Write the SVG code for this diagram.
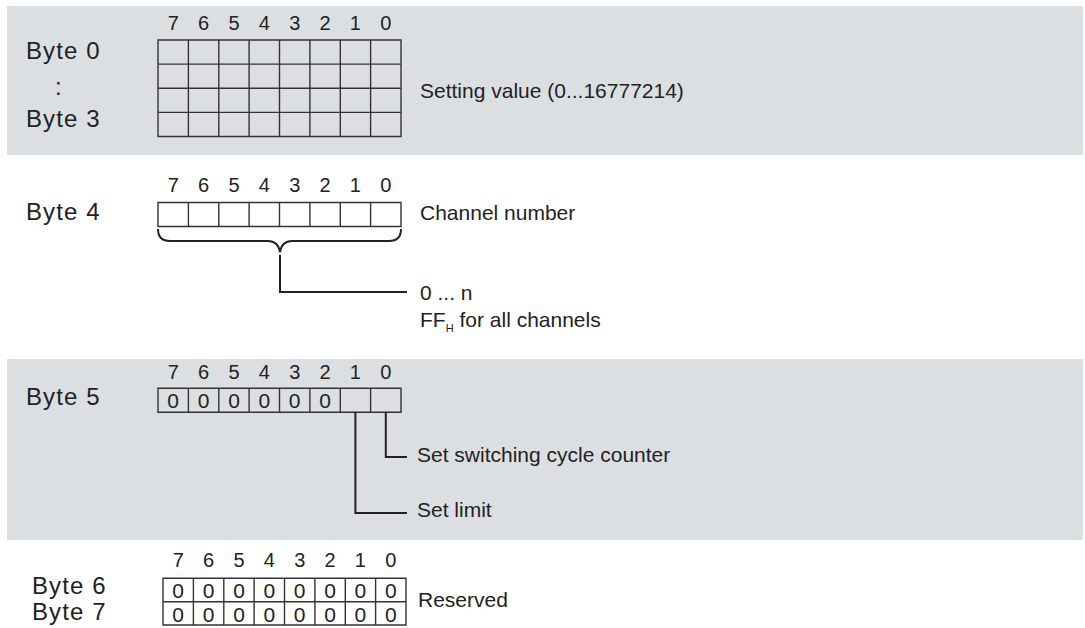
<svg xmlns="http://www.w3.org/2000/svg" width="1085" height="628" viewBox="0 0 1085 628">
<style>
.bg{fill:#dcdfe2}
.grid{fill:none;stroke:#333;stroke-width:1.4}
.t{font-family:"Liberation Sans",Arial,sans-serif;fill:#222}
.lbl{font-size:24px;letter-spacing:1.1px}
.bit{font-size:20px;text-anchor:middle}
.zero{font-size:21px;text-anchor:middle}
.txt{font-size:21px}
.conn{fill:none;stroke:#222;stroke-width:2}
</style>
<rect class="bg" x="7" y="6" width="1076" height="149"/>
<rect class="bg" x="7" y="359" width="1076" height="181"/>

<g id="byte0-3">
  <text class="t lbl" x="26" y="59">Byte 0</text>
  <text class="t lbl" x="55" y="95">:</text>
  <text class="t lbl" x="26" y="127">Byte 3</text>
  <g class="t bit">
    <text x="173.2" y="30">7</text><text x="203.6" y="30">6</text><text x="234" y="30">5</text><text x="264.3" y="30">4</text><text x="294.7" y="30">3</text><text x="325" y="30">2</text><text x="355.4" y="30">1</text><text x="385.8" y="30">0</text>
  </g>
  <path class="grid" d="M158,40H401V136.5H158Z M158,64.1H401 M158,88.3H401 M158,112.4H401 M188.4,40V136.5 M218.8,40V136.5 M249.1,40V136.5 M279.5,40V136.5 M309.9,40V136.5 M340.3,40V136.5 M370.6,40V136.5"/>
  <text class="t txt" x="420" y="98">Setting value (0...16777214)</text>
</g>

<g id="byte4">
  <text class="t lbl" x="26" y="220">Byte 4</text>
  <g class="t bit">
    <text x="173.2" y="192">7</text><text x="203.6" y="192">6</text><text x="234" y="192">5</text><text x="264.3" y="192">4</text><text x="294.7" y="192">3</text><text x="325" y="192">2</text><text x="355.4" y="192">1</text><text x="385.8" y="192">0</text>
  </g>
  <path class="grid" d="M158,202.5H401V226.5H158Z M188.4,202.5V226.5 M218.8,202.5V226.5 M249.1,202.5V226.5 M279.5,202.5V226.5 M309.9,202.5V226.5 M340.3,202.5V226.5 M370.6,202.5V226.5"/>
  <text class="t txt" x="420" y="220">Channel number</text>
  <text class="t txt" x="420" y="300">0 ... n</text>
  <text class="t txt" x="420" y="326.7">FF<tspan font-size="11" dy="5">H</tspan><tspan dy="-5"> for all channels</tspan></text>
</g>

<g id="byte5">
  <text class="t lbl" x="26" y="405">Byte 5</text>
  <g class="t bit">
    <text x="173.2" y="379">7</text><text x="203.6" y="379">6</text><text x="234" y="379">5</text><text x="264.3" y="379">4</text><text x="294.7" y="379">3</text><text x="325" y="379">2</text><text x="355.4" y="379">1</text><text x="385.8" y="379">0</text>
  </g>
  <path class="grid" d="M158,388.3H401V412.3H158Z M188.4,388.3V412.3 M218.8,388.3V412.3 M249.1,388.3V412.3 M279.5,388.3V412.3 M309.9,388.3V412.3 M340.3,388.3V412.3 M370.6,388.3V412.3"/>
  <g class="t zero">
    <text x="173.2" y="408.3">0</text><text x="203.6" y="408.3">0</text><text x="234" y="408.3">0</text><text x="264.3" y="408.3">0</text><text x="294.7" y="408.3">0</text><text x="325" y="408.3">0</text>
  </g>
  <text class="t txt" x="417" y="461.7">Set switching cycle counter</text>
  <text class="t txt" x="417" y="516.7">Set limit</text>
</g>

<g id="byte6-7">
  <text class="t lbl" x="32" y="594">Byte 6</text>
  <text class="t lbl" x="32" y="620">Byte 7</text>
  <g class="t bit">
    <text x="178.2" y="567">7</text><text x="208.6" y="567">6</text><text x="239" y="567">5</text><text x="269.3" y="567">4</text><text x="299.7" y="567">3</text><text x="330" y="567">2</text><text x="360.4" y="567">1</text><text x="390.8" y="567">0</text>
  </g>
  <path class="grid" d="M163,578.3H406V625H163Z M163,601.7H406 M193.4,578.3V625 M223.8,578.3V625 M254.1,578.3V625 M284.5,578.3V625 M314.9,578.3V625 M345.3,578.3V625 M375.6,578.3V625"/>
  <g class="t zero">
    <text x="178.2" y="598">0</text><text x="208.6" y="598">0</text><text x="239" y="598">0</text><text x="269.3" y="598">0</text><text x="299.7" y="598">0</text><text x="330" y="598">0</text><text x="360.4" y="598">0</text><text x="390.8" y="598">0</text>
    <text x="178.2" y="621.5">0</text><text x="208.6" y="621.5">0</text><text x="239" y="621.5">0</text><text x="269.3" y="621.5">0</text><text x="299.7" y="621.5">0</text><text x="330" y="621.5">0</text><text x="360.4" y="621.5">0</text><text x="390.8" y="621.5">0</text>
  </g>
  <text class="t txt" x="418" y="606.7">Reserved</text>
</g>

<g id="connectors">
  <path class="conn" d="M158,229Q158,241 170,241L268,241Q278,241 280,252Q282,241 292,241L389,241Q401,241 401,229"/>
  <path class="conn" d="M280,255V292H407"/>
  <path class="conn" d="M385.8,412.3V457H407"/>
  <path class="conn" d="M355.4,412.3V513H407"/>
</g>
</svg>
